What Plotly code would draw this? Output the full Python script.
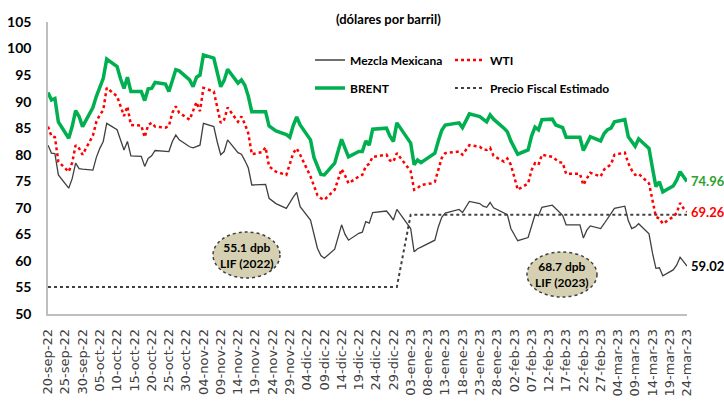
import plotly.graph_objects as go

dates = [
    "2022-09-20", "2022-09-21", "2022-09-22", "2022-09-23", "2022-09-26", "2022-09-27", "2022-09-28", "2022-09-29", "2022-09-30",
    "2022-10-03", "2022-10-04", "2022-10-05", "2022-10-06", "2022-10-07", "2022-10-10", "2022-10-11", "2022-10-12", "2022-10-13",
    "2022-10-14", "2022-10-17", "2022-10-18", "2022-10-19", "2022-10-20", "2022-10-21", "2022-10-24", "2022-10-25", "2022-10-26",
    "2022-10-27", "2022-10-28", "2022-10-31", "2022-11-01", "2022-11-02", "2022-11-03", "2022-11-04", "2022-11-07", "2022-11-08",
    "2022-11-09", "2022-11-10", "2022-11-11", "2022-11-14", "2022-11-15", "2022-11-16", "2022-11-17", "2022-11-18", "2022-11-21",
    "2022-11-22", "2022-11-23", "2022-11-25", "2022-11-28", "2022-11-29", "2022-11-30", "2022-12-01", "2022-12-02", "2022-12-05",
    "2022-12-06", "2022-12-07", "2022-12-08", "2022-12-09", "2022-12-12", "2022-12-13", "2022-12-14", "2022-12-15", "2022-12-16",
    "2022-12-19", "2022-12-20", "2022-12-21", "2022-12-22", "2022-12-23", "2022-12-27", "2022-12-28", "2022-12-29", "2022-12-30",
    "2023-01-03", "2023-01-04", "2023-01-05", "2023-01-06", "2023-01-09", "2023-01-10", "2023-01-11", "2023-01-12", "2023-01-13",
    "2023-01-17", "2023-01-18", "2023-01-19", "2023-01-20", "2023-01-23", "2023-01-24", "2023-01-25", "2023-01-26", "2023-01-27",
    "2023-01-30", "2023-01-31", "2023-02-01", "2023-02-02", "2023-02-03", "2023-02-06", "2023-02-07", "2023-02-08", "2023-02-09",
    "2023-02-10", "2023-02-13", "2023-02-14", "2023-02-15", "2023-02-16", "2023-02-17", "2023-02-21", "2023-02-22", "2023-02-23",
    "2023-02-24", "2023-02-27", "2023-02-28", "2023-03-01", "2023-03-02", "2023-03-03", "2023-03-06", "2023-03-07", "2023-03-08",
    "2023-03-09", "2023-03-10", "2023-03-13", "2023-03-14", "2023-03-15", "2023-03-16", "2023-03-17", "2023-03-20", "2023-03-21",
    "2023-03-22", "2023-03-23", "2023-03-24",
]

brent = [
    91.7, 90.3, 90.6, 86.2, 83.1, 85.3, 88.3, 87.2, 85.3,
    88.9, 91.0, 92.8, 94.4, 98.0, 96.6, 94.3, 92.5, 94.6,
    91.9, 91.9, 90.2, 92.4, 92.5, 93.6, 93.3, 91.9, 94.2,
    96.0, 95.8, 94.1, 92.8, 94.6, 95.0, 98.8, 98.2, 95.5,
    92.8, 94.0, 96.1, 93.5, 94.1, 93.1, 91.0, 88.1, 88.1,
    88.1, 85.4, 84.5, 83.8, 83.3, 85.5, 87.1, 85.6, 82.8,
    79.5, 77.8, 76.3, 76.2, 78.4, 80.7, 82.9, 81.2, 79.6,
    80.6, 80.6, 82.6, 81.8, 84.8, 85.0, 83.5, 82.5, 86.0,
    82.2, 78.1, 79.0, 78.5, 79.8, 80.3, 82.6, 84.6, 85.6,
    86.0, 85.1, 86.5, 87.7, 87.2, 86.6, 86.2, 87.5, 86.7,
    85.0, 84.3, 82.6, 81.2, 80.1, 80.9, 83.5, 85.2, 84.7,
    86.6, 86.7, 85.6, 85.3, 85.1, 83.3, 83.3, 80.8, 82.3,
    83.4, 82.6, 84.0, 84.7, 85.0, 86.2, 86.6, 83.4, 82.5,
    81.6, 83.0, 81.2, 77.5, 74.0, 74.9, 73.0, 74.1, 75.2,
    76.8, 75.9, 74.96,
]

wti = [
    85.3, 83.5, 83.3, 78.7, 76.8, 78.5, 81.8, 81.2, 80.0,
    83.6, 86.2, 87.5, 88.4, 92.6, 91.0, 89.3, 87.3, 89.1,
    85.6, 85.5, 83.3, 85.6, 86.0, 85.3, 85.1, 85.4, 87.9,
    89.1, 87.9, 86.6, 88.4, 89.9, 88.2, 92.6, 91.9, 88.9,
    86.0, 86.6, 88.9, 86.2, 87.2, 85.8, 84.0, 80.1, 80.5,
    81.4, 77.8, 76.8, 76.2, 78.2, 80.3, 81.2, 80.0, 75.9,
    74.3, 72.4, 71.8, 71.5, 73.4, 75.4, 77.3, 76.1, 74.6,
    75.9, 76.2, 77.8, 78.3, 79.6, 80.0, 78.9, 78.7, 80.3,
    76.9, 73.4, 73.7, 74.3, 74.6, 74.9, 77.4, 79.4, 80.3,
    80.6, 80.0, 80.9, 81.8, 81.5, 81.0, 80.9, 81.3, 79.8,
    78.7, 79.3, 78.1, 75.8, 73.4, 74.6, 77.1, 78.4, 78.1,
    80.0, 79.6, 79.1, 78.6, 78.5, 76.4, 76.4, 74.3, 75.5,
    76.6, 75.9, 77.2, 77.7, 78.2, 80.0, 80.4, 78.4, 77.1,
    76.2, 76.4, 74.6, 71.5, 68.3, 68.0, 67.0, 68.3, 69.0,
    70.9, 69.9, 69.26,
]

mezcla = [
    81.8, 80.3, 80.2, 76.2, 73.7, 75.5, 78.4, 77.4, 77.3,
    77.1, 79.5, 81.2, 82.5, 85.9, 84.7, 82.8, 80.9, 82.5,
    79.8, 79.7, 77.8, 79.3, 79.8, 80.8, 80.6, 80.6, 82.5,
    83.7, 82.8, 81.5, 81.3, 81.6, 81.8, 85.9, 85.3, 82.4,
    80.0, 80.6, 82.8, 80.4, 80.1, 78.9, 77.5, 74.3, 74.3,
    74.4, 71.8, 70.8, 69.9, 71.0, 72.0, 72.9, 70.2, 67.7,
    65.0, 62.4, 61.0, 60.5, 62.2, 64.5, 66.8, 65.0, 63.9,
    65.2, 65.4, 67.4, 67.1, 69.1, 69.4, 68.6, 67.7, 69.7,
    66.1, 61.7, 62.3, 62.6, 63.5, 63.9, 66.4, 68.2, 69.0,
    69.7, 69.1, 70.2, 71.2, 70.8, 70.3, 70.1, 71.0, 70.0,
    69.0, 68.7, 66.1, 64.8, 63.8, 64.4, 66.8, 68.7, 68.5,
    70.1, 70.5, 69.9, 69.3, 68.6, 66.8, 66.8, 64.3, 65.8,
    66.6, 66.1, 67.0, 68.0, 68.9, 69.9, 70.3, 67.6, 66.1,
    66.4, 67.0, 65.1, 61.5, 58.6, 58.7, 57.2, 58.3, 59.2,
    60.7, 59.8, 59.02,
]

fiscal_dates = ["2022-09-20", "2022-12-30", "2023-01-03", "2023-03-24"]
fiscal = [55.1, 55.1, 68.7, 68.7]

tick_dates = [
    "2022-09-20", "2022-09-25", "2022-09-30", "2022-10-05", "2022-10-10", "2022-10-15", "2022-10-20", "2022-10-25",
    "2022-10-30", "2022-11-04", "2022-11-09", "2022-11-14", "2022-11-19", "2022-11-24", "2022-11-29", "2022-12-04",
    "2022-12-09", "2022-12-14", "2022-12-19", "2022-12-24", "2022-12-29", "2023-01-03", "2023-01-08", "2023-01-13",
    "2023-01-18", "2023-01-23", "2023-01-28", "2023-02-02", "2023-02-07", "2023-02-12", "2023-02-17", "2023-02-22",
    "2023-02-27", "2023-03-04", "2023-03-09", "2023-03-14", "2023-03-19", "2023-03-24",
]
tick_labels = [
    "20-sep-22", "25-sep-22", "30-sep-22", "05-oct-22", "10-oct-22", "15-oct-22", "20-oct-22", "25-oct-22",
    "30-oct-22", "04-nov-22", "09-nov-22", "14-nov-22", "19-nov-22", "24-nov-22", "29-nov-22", "04-dic-22",
    "09-dic-22", "14-dic-22", "19-dic-22", "24-dic-22", "29-dic-22", "03-ene-23", "08-ene-23", "13-ene-23",
    "18-ene-23", "23-ene-23", "28-ene-23", "02-feb-23", "07-feb-23", "12-feb-23", "17-feb-23", "22-feb-23",
    "27-feb-23", "04-mar-23", "09-mar-23", "14-mar-23", "19-mar-23", "24-mar-23",
]

FONT = "Lato, Liberation Sans Narrow, sans-serif"
GREEN = "#00B050"
RED = "#FF0000"
GRAY = "#404040"

fig = go.Figure()
fig.add_trace(go.Scatter(x=fiscal_dates, y=fiscal, mode="lines", name="Precio Fiscal Estimado",
                         line=dict(color=GRAY, width=2, dash="dot"), legend="legend4"))
fig.add_trace(go.Scatter(x=dates, y=mezcla, mode="lines", name="Mezcla Mexicana",
                         line=dict(color=GRAY, width=1.3), legend="legend"))
fig.add_trace(go.Scatter(x=dates, y=wti, mode="lines", name="WTI",
                         line=dict(color=RED, width=2.5, dash="dot"), legend="legend2"))
fig.add_trace(go.Scatter(x=dates, y=brent, mode="lines", name="BRENT",
                         line=dict(color=GREEN, width=3.5), legend="legend3"))

PL, PR, PT, PB = 48, 687, 22, 314
def px(xp):
    return (xp - PL) / (PR - PL)
def py(yp):
    return (PB - yp) / (PB - PT)

leg_font = dict(family=FONT, size=12, color="#000000", weight="bold")
def leg(xp, yp):
    return dict(x=px(xp), y=py(yp), xanchor="left", yanchor="middle", font=leg_font,
                bgcolor="rgba(0,0,0,0)", borderwidth=0)

end_font = 13
annotations = [
    dict(text="<b>(dólares por barril)</b>", x=px(388), y=py(19), xref="paper", yref="paper",
         xanchor="center", yanchor="middle",
         showarrow=False, font=dict(family=FONT, size=13, color="#000000")),
    dict(text="<b>74.96</b>", x=dates[-1], y=brent[-1], xref="x", yref="y", xanchor="left", yanchor="middle",
         xshift=2, showarrow=False, font=dict(family=FONT, size=end_font, color="#2CA02C")),
    dict(text="<b>69.26</b>", x=dates[-1], y=wti[-1], xref="x", yref="y", xanchor="left", yanchor="middle",
         xshift=2, showarrow=False, font=dict(family=FONT, size=end_font, color=RED)),
    dict(text="<b>59.02</b>", x=dates[-1], y=mezcla[-1], xref="x", yref="y", xanchor="left", yanchor="middle",
         xshift=2, showarrow=False, font=dict(family=FONT, size=end_font, color="#000000")),
    dict(text="<b>55.1 dpb<br>LIF (2022)</b>", x=px(246.5), y=py(255), xref="paper", yref="paper",
         xanchor="center", yanchor="middle",
         showarrow=False, font=dict(family=FONT, size=12, color="#000000")),
    dict(text="<b>68.7 dpb<br>LIF (2023)</b>", x=px(562), y=py(274.5), xref="paper", yref="paper",
         xanchor="center", yanchor="middle",
         showarrow=False, font=dict(family=FONT, size=12, color="#000000")),
]

shapes = [
    dict(type="circle", xref="paper", yref="paper", x0=px(213), x1=px(280), y0=py(278), y1=py(232),
         fillcolor="#D6D0B2", line=dict(color=GRAY, width=1.5, dash="dot"), layer="above"),
    dict(type="circle", xref="paper", yref="paper", x0=px(527), x1=px(597), y0=py(297), y1=py(252),
         fillcolor="#D6D0B2", line=dict(color=GRAY, width=1.5, dash="dot"), layer="above"),
]

fig.update_layout(
    template="none",
    width=724, height=402,
    margin=dict(l=PL, r=724 - PR, t=PT, b=402 - PB, autoexpand=False),
    paper_bgcolor="white", plot_bgcolor="white",
    showlegend=True,
    legend=leg(310, 60),
    legend2=leg(450, 60),
    legend3=leg(310, 88),
    legend4=leg(450, 88),
    annotations=annotations,
    shapes=shapes,
    xaxis=dict(
        type="date", range=["2022-09-20", "2023-03-24"],
        tickvals=tick_dates, ticktext=tick_labels, tickangle=-90,
        tickfont=dict(family="DejaVu Sans, sans-serif", size=13, color=GRAY),
        showgrid=False, zeroline=False, showline=True, linecolor="#BFBFBF", linewidth=1.5,
        ticks="", ticklabelstandoff=8, automargin=False,
    ),
    yaxis=dict(
        range=[50, 105], dtick=5, tick0=50,
        tickfont=dict(family=FONT, size=14, color="#000000", weight="bold"),
        showgrid=False, zeroline=False, showline=True, linecolor="#BFBFBF", linewidth=1.5,
        ticks="", ticklabelstandoff=12, automargin=False,
    ),
)

fig.write_html("out.html", config={"displayModeBar": False},
               post_script="document.body.style.margin='0';document.body.style.overflow='hidden';")
